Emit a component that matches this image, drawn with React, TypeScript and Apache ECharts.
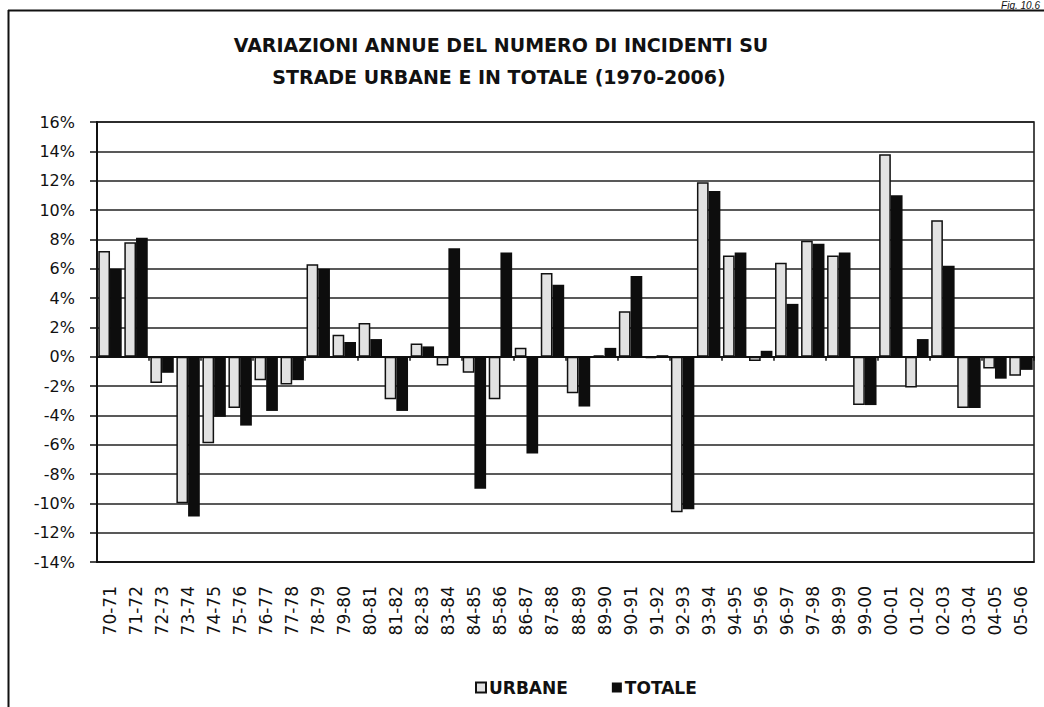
import React, { useEffect, useRef } from "react";
import * as echarts from "echarts";

const categories = [
  "70-71", "71-72", "72-73", "73-74", "74-75", "75-76", "76-77", "77-78", "78-79",
  "79-80", "80-81", "81-82", "82-83", "83-84", "84-85", "85-86", "86-87", "87-88",
  "88-89", "89-90", "90-91", "91-92", "92-93", "93-94", "94-95", "95-96", "96-97",
  "97-98", "98-99", "99-00", "00-01", "01-02", "02-03", "03-04", "04-05", "05-06",
];

const urbane = [
  7.2, 7.8, -1.8, -10.0, -5.9, -3.5, -1.6, -1.9, 6.3,
  1.5, 2.3, -2.9, 0.9, -0.6, -1.1, -2.9, 0.6, 5.7,
  -2.5, 0.1, 3.1, -0.1, -10.6, 11.9, 6.9, -0.3, 6.4,
  7.9, 6.9, -3.3, 13.8, -2.1, 9.3, -3.5, -0.8, -1.3,
];

const totale = [
  6.0, 8.1, -1.1, -10.9, -4.1, -4.7, -3.7, -1.6, 6.0,
  1.0, 1.2, -3.7, 0.7, 7.4, -9.0, 7.1, -6.6, 4.9,
  -3.4, 0.6, 5.5, 0.1, -10.4, 11.3, 7.1, 0.4, 3.6,
  7.7, 7.1, -3.3, 11.0, 1.2, 6.2, -3.5, -1.5, -0.9,
];

const titleLines = [
  "VARIAZIONI ANNUE DEL NUMERO DI INCIDENTI SU",
  "STRADE URBANE E IN TOTALE (1970-2006)",
];
const figLabel = "Fig. 10.6";
const seriesNames = ["URBANE", "TOTALE"];

export default function App() {
  const ref = useRef<HTMLDivElement>(null);

  useEffect(() => {
    if (!ref.current) return;
    const chart = echarts.init(ref.current, undefined, { renderer: "svg" });
    const font = "DejaVu Sans";
    chart.setOption({
      animation: false,
      backgroundColor: "#ffffff",
      graphic: [
        {
          type: "line",
          shape: { x1: 8, y1: 10.5, x2: 1044, y2: 10.5 },
          style: { stroke: "#111", lineWidth: 2 },
        },
        {
          type: "line",
          shape: { x1: 8.5, y1: 10, x2: 8.5, y2: 707 },
          style: { stroke: "#111", lineWidth: 2 },
        },
        {
          type: "text",
          x: 1040,
          y: 0,
          style: {
            text: figLabel,
            font: "italic 10px 'Liberation Sans'",
            fill: "#111",
            align: "right",
            verticalAlign: "top",
          },
        },
        {
          type: "text",
          x: 501,
          y: 45,
          style: {
            text: titleLines[0],
            font: `bold 19px '${font}'`,
            fill: "#111",
            align: "center",
            verticalAlign: "middle",
          },
        },
        {
          type: "text",
          x: 499,
          y: 77,
          style: {
            text: titleLines[1],
            font: `bold 19px '${font}'`,
            fill: "#111",
            align: "center",
            verticalAlign: "middle",
          },
        },
      ],
      legend: {
        left: 470,
        top: 674,
        itemGap: 44,
        itemWidth: 10,
        itemHeight: 10,
        icon: "rect",
        textStyle: {
          fontFamily: font,
          fontWeight: "bold",
          fontSize: 17,
          color: "#111",
          padding: [0, 0, 0, -2],
        },
        data: seriesNames,
      },
      grid: {
        left: 97,
        right: 10,
        top: 122,
        bottom: 145,
        show: true,
        borderColor: "#111",
        borderWidth: 1.5,
      },
      xAxis: [
        {
          type: "category",
          data: categories,
          axisLine: { onZero: true, lineStyle: { color: "#111", width: 2 } },
          axisTick: { show: true, length: 4, lineStyle: { color: "#111", width: 1.5 } },
          axisLabel: { show: false },
        },
        {
          type: "category",
          data: categories,
          position: "bottom",
          axisLine: { show: true, onZero: false, lineStyle: { color: "#111", width: 1.5 } },
          axisTick: { show: false },
          axisLabel: {
            show: true,
            rotate: 90,
            interval: 0,
            margin: 24,
            fontFamily: font,
            fontSize: 17,
            color: "#111",
          },
        },
      ],
      yAxis: {
        type: "value",
        min: -14,
        max: 16,
        interval: 2,
        axisLine: { show: true, lineStyle: { color: "#111", width: 2 } },
        axisTick: { show: true, length: 7, lineStyle: { color: "#111", width: 1.5 } },
        axisLabel: {
          formatter: (v: number) => `${v}%`,
          margin: 22,
          fontFamily: font,
          fontSize: 16,
          color: "#111",
        },
        splitLine: { show: true, lineStyle: { color: "#222", width: 1.5 } },
      },
      series: [
        {
          name: seriesNames[0],
          type: "bar",
          data: urbane,
          xAxisIndex: 0,
          barGap: "0%",
          barCategoryGap: "10%",
          itemStyle: { color: "#e2e2e2", borderColor: "#111", borderWidth: 1.5 },
        },
        {
          name: seriesNames[1],
          type: "bar",
          data: totale,
          xAxisIndex: 0,
          barGap: "0%",
          barCategoryGap: "10%",
          itemStyle: { color: "#0d0d0d", borderColor: "#0d0d0d", borderWidth: 0 },
        },
      ],
    });
    return () => chart.dispose();
  }, []);

  return (
    <div
      ref={ref}
      style={{ position: "fixed", left: 0, top: 0, width: 1044, height: 707, background: "#fff" }}
    />
  );
}
